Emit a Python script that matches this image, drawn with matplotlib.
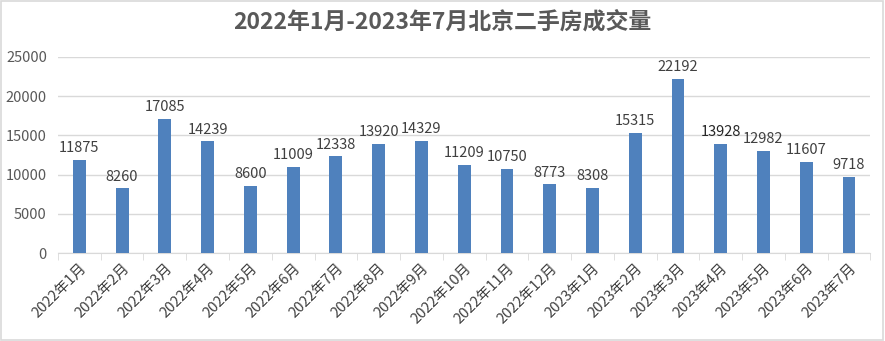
import matplotlib
matplotlib.use("Agg")
import matplotlib.pyplot as plt
import numpy as np

plt.rcParams['font.family'] = ['Noto Sans CJK SC', 'DejaVu Sans']

months = ["2022年1月", "2022年2月", "2022年3月", "2022年4月", "2022年5月", "2022年6月",
          "2022年7月", "2022年8月", "2022年9月", "2022年10月", "2022年11月", "2022年12月",
          "2023年1月", "2023年2月", "2023年3月", "2023年4月", "2023年5月", "2023年6月",
          "2023年7月"]
volumes = [11875, 8260, 17085, 14239, 8600, 11009, 12338, 13920, 14329, 11209,
           10750, 8773, 8308, 15315, 22192, 13928, 12982, 11607, 9718]
yticks = [0, 5000, 10000, 15000, 20000, 25000]
title = "2022年1月-2023年7月北京二手房成交量"

fig = plt.figure(figsize=(8.85, 3.41), dpi=100)
fig.patches.append(plt.Rectangle((0.001, 0.002), 0.997, 0.995, transform=fig.transFigure,
                                 fill=False, edgecolor='#d9d9d9', linewidth=1.2))
ax = fig.add_axes([0.0655, 0.258, 0.918, 0.575])
x = np.arange(len(months))
bars = ax.bar(x, volumes, width=0.3, color='#4f81bd', zorder=3)
for xi, v in zip(x, volumes):
    ax.text(xi, v + 600, str(v), ha='center', va='bottom', fontsize=10.5,
            color='#262626' if v == 13928 else '#404040')

ax.set_xlim(-0.5, len(months) - 0.5)
ax.set_ylim(0, 25000)
ax.set_yticks(yticks)
ax.set_yticklabels([str(t) for t in yticks], fontsize=10.5, color='#595959')
ax.yaxis.grid(True, color='#d9d9d9', linewidth=1, zorder=0)
ax.tick_params(axis='y', length=0, pad=8)

ax.set_xticks(x)
ax.set_xticklabels(months, rotation=45, ha='right', rotation_mode='anchor', fontsize=10.5, color='#404040')
ax.tick_params(axis='x', which='major', length=0, pad=6)
ax.set_xticks(np.arange(-0.5, len(months), 1), minor=True)
ax.tick_params(axis='x', which='minor', length=5, color='#d9d9d9')

for s in ['top', 'right', 'left']:
    ax.spines[s].set_visible(False)
ax.spines['bottom'].set_color('#d9d9d9')

fig.text(0.5, 0.935, title, ha='center', va='center', fontsize=16.5, fontweight='bold', color='#595959')

fig.savefig('out.png', dpi=100)
